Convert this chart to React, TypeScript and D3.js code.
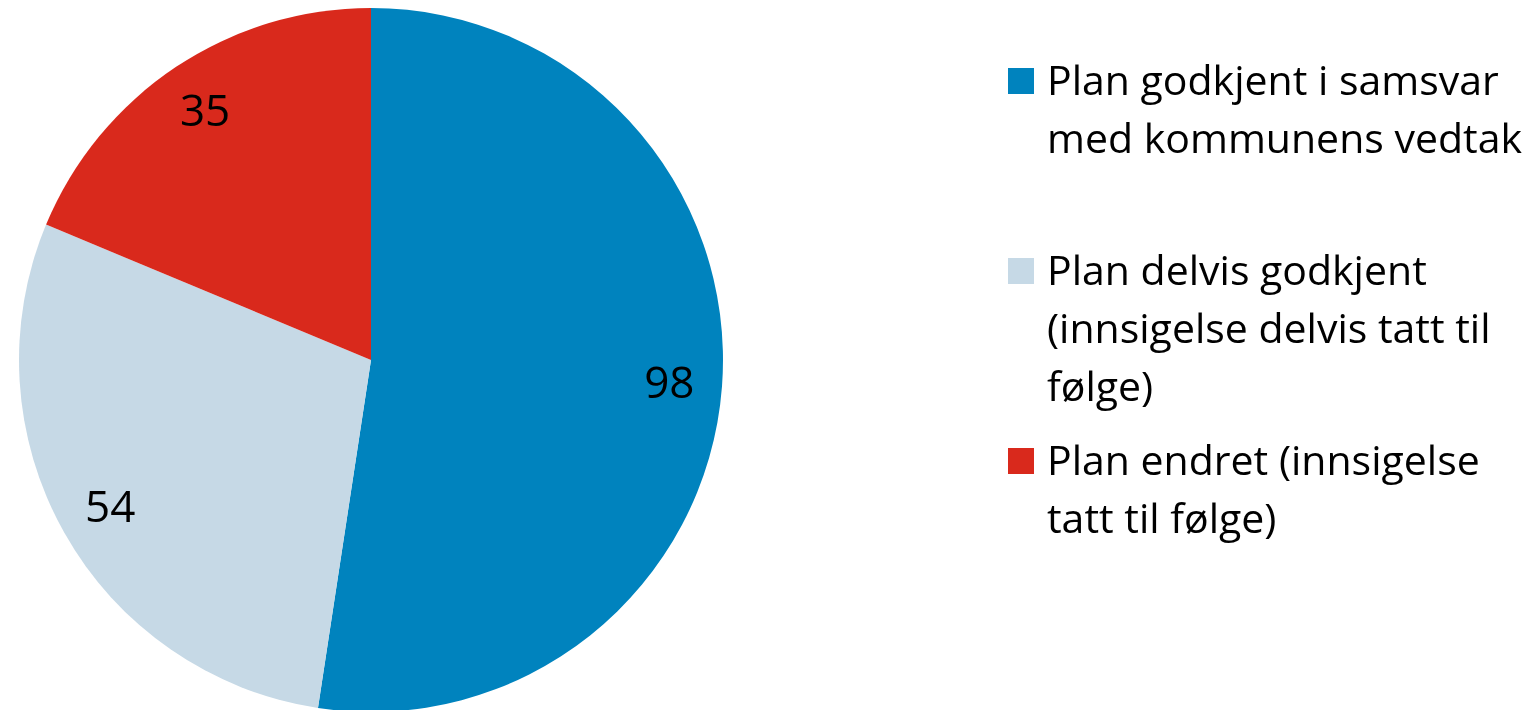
import React from 'react';
import * as d3 from 'd3';

const categories = [
  'Plan godkjent i samsvar med kommunens vedtak',
  'Plan delvis godkjent (innsigelse delvis tatt til følge)',
  'Plan endret (innsigelse tatt til følge)',
];
const values = [98, 54, 35];
const colors = ['#0083be', '#c6d9e6', '#d9291c'];
// legend lines as wrapped in the original
const legendLines = [
  ['Plan godkjent i samsvar', 'med kommunens vedtak'],
  ['Plan delvis godkjent', '(innsigelse delvis tatt til', 'følge)'],
  ['Plan endret (innsigelse', 'tatt til følge)'],
];

const W = 1540;
const H = 710;
const cx = 371;
const cy = 360;
const r = 352;
const font = "'Open Sans', sans-serif";

const App = () => {
  const pie = d3.pie<number>().sort(null).value(d => d);
  const arcs = pie(values);
  const arc = d3.arc<d3.PieArcDatum<number>>().innerRadius(0).outerRadius(r);
  const labelArc = d3.arc<d3.PieArcDatum<number>>().innerRadius(r * 0.85).outerRadius(r * 0.85);

  return (
    <svg width={W} height={H} style={{ position: 'fixed', left: 0, top: 0 }}>
      <g transform={`translate(${cx},${cy})`}>
        {arcs.map((a, i) => (
          <path key={i} d={arc(a) || ''} fill={colors[i]} />
        ))}
        {arcs.map((a, i) => {
          const [x, y] = labelArc.centroid(a);
          return (
            <text key={'l' + i} x={x} y={y} dy="0.35em" textAnchor="middle"
              fontFamily={font} fontSize={44} fill="#000">
              {values[i]}
            </text>
          );
        })}
      </g>
      <g transform="translate(1008,0)">
        {categories.map((c, i) => {
          const yc = 81 + i * 190;
          return (
            <g key={c}>
              <rect x={0} y={yc - 13} width={26} height={26} fill={colors[i]} />
              <text x={39} y={yc + 14} fontFamily={font} fontSize={41} fill="#000">
                {legendLines[i].map((t, j) => (
                  <tspan key={j} x={39} dy={j === 0 ? 0 : 58}>{t}</tspan>
                ))}
              </text>
            </g>
          );
        })}
      </g>
    </svg>
  );
};

export default App;
